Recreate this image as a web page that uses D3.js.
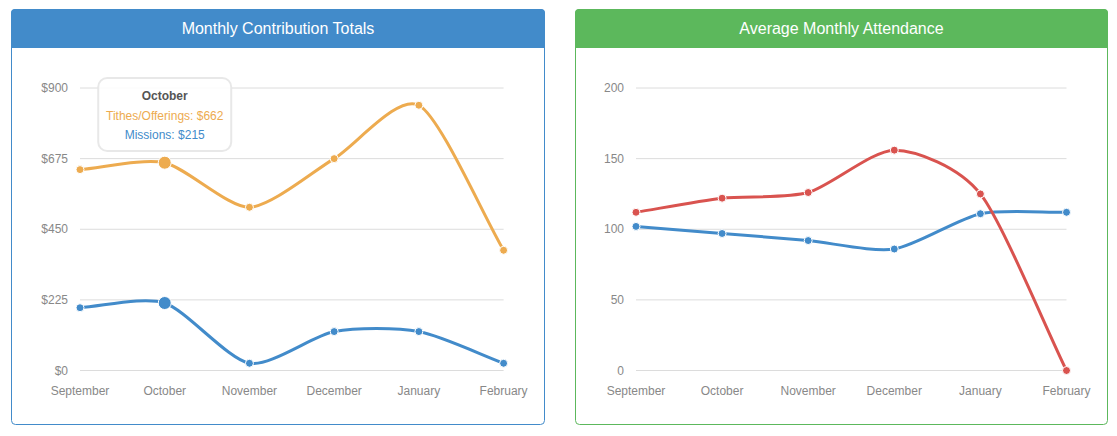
<!DOCTYPE html>
<html>
<head>
<meta charset="utf-8">
<script src="https://cdn.jsdelivr.net/npm/d3@7"></script>
<style>
  html, body { margin: 0; padding: 0; background: #fff; }
  svg { display: block; }
  text { font-family: "Liberation Sans", Arial, sans-serif; }
</style>
</head>
<body>
<svg id="chart" width="1117" height="436"></svg>
<script>
// ---- data ----
const months = ["September", "October", "November", "December", "January", "February"];
const tithes = [640, 662, 520, 675, 845, 383];
const missions = [200, 215, 23, 124, 124, 23];
const attendanceRed = [112, 122, 126, 156, 125, 0];
const attendanceBlue = [102, 97, 92, 86, 111, 112];
const contributionTicks = [0, 225, 450, 675, 900];
const attendanceTicks = [0, 50, 100, 150, 200];
const hoverIndex = 1;

const svg = d3.select("#chart");

// Morris.js style smooth curve as a d3 curve factory
function morrisCurve(bottom) {
  return function (context) {
    let pts = [];
    return {
      areaStart() {}, areaEnd() {},
      lineStart() { pts = []; },
      point(x, y) { pts.push({ x: +x, y: +y }); },
      lineEnd() {
        const grad = (a, b) => (a.y - b.y) / (a.x - b.x);
        const g = pts.map((p, i) => {
          const prev = pts[i - 1], next = pts[i + 1];
          if (prev && next) return grad(prev, next);
          if (prev) return grad(prev, p);
          if (next) return grad(p, next);
          return 0;
        });
        pts.forEach((p, i) => {
          if (i === 0) { context.moveTo(p.x, p.y); return; }
          const q = pts[i - 1];
          const ix = (p.x - q.x) / 4;
          const x1 = q.x + ix, y1 = Math.min(bottom, q.y + ix * g[i - 1]);
          const x2 = p.x - ix, y2 = Math.min(bottom, p.y - ix * g[i]);
          context.bezierCurveTo(x1, y1, x2, y2, p.x, p.y);
        });
      }
    };
  };
}

function panel(cfg) {
  const g = svg.append("g");
  const { left, right, top, bottom, headerH, color, title } = cfg;
  const r = 4;
  // border
  g.append("rect")
    .attr("x", left + 0.5).attr("y", top + 0.5)
    .attr("width", right - left - 1).attr("height", bottom - top - 1)
    .attr("rx", r).attr("fill", "#fff").attr("stroke", color).attr("stroke-width", 1);
  // header with rounded top corners
  const hp = d3.path();
  hp.moveTo(left, top + headerH);
  hp.lineTo(left, top + r);
  hp.arcTo(left, top, left + r, top, r);
  hp.lineTo(right - r, top);
  hp.arcTo(right, top, right, top + r, r);
  hp.lineTo(right, top + headerH);
  hp.closePath();
  g.append("path").attr("d", hp.toString()).attr("fill", color);
  g.append("text")
    .attr("x", (left + right) / 2).attr("y", top + 25)
    .attr("text-anchor", "middle").attr("fill", "#fff")
    .attr("font-size", 16).text(title);

  const x = d3.scalePoint().domain(months).range(cfg.xRange);
  const y = d3.scaleLinear().domain(cfg.yDomain).range([370.5, 88]);

  // grid
  g.selectAll(".grid").data(cfg.ticks).join("line")
    .attr("x1", cfg.xRange[0]).attr("x2", cfg.xRange[1])
    .attr("y1", d => y(d)).attr("y2", d => y(d))
    .attr("stroke", "#dcdcdc").attr("stroke-width", 1);
  g.selectAll(".ylab").data(cfg.ticks).join("text")
    .attr("x", cfg.xRange[0] - 12).attr("y", d => y(d) + 4)
    .attr("text-anchor", "end").attr("fill", "#888").attr("font-size", 12)
    .text(cfg.fmt);
  g.selectAll(".xlab").data(months).join("text")
    .attr("x", d => x(d)).attr("y", 395)
    .attr("text-anchor", "middle").attr("fill", "#888").attr("font-size", 12)
    .text(d => d);

  const line = d3.line()
    .x((d, i) => x(months[i]))
    .y(d => y(d))
    .curve(morrisCurve(370.5));

  // draw last series first so first series is on top
  const series = cfg.series.slice().reverse();
  series.forEach(s => {
    g.append("path").datum(s.values)
      .attr("d", line).attr("fill", "none")
      .attr("stroke", s.color).attr("stroke-width", 3);
  });
  series.forEach(s => {
    g.selectAll(null).data(s.values).join("circle")
      .attr("cx", (d, i) => x(months[i]))
      .attr("cy", d => y(d))
      .attr("r", (d, i) => (cfg.hover === i ? 6.5 : 4))
      .attr("fill", s.color).attr("stroke", "#fff").attr("stroke-width", 1);
  });

  if (cfg.hover != null) {
    const hx = x(months[cfg.hover]);
    const tw = 133, th = 73;
    const tg = g.append("g");
    tg.append("rect")
      .attr("x", hx - tw / 2).attr("y", 78)
      .attr("width", tw).attr("height", th).attr("rx", 9)
      .attr("fill", "rgba(255,255,255,0.85)")
      .attr("stroke", "rgba(230,230,230,0.9)").attr("stroke-width", 2);
    tg.append("text").attr("x", hx).attr("y", 100)
      .attr("text-anchor", "middle").attr("font-size", 12)
      .attr("font-weight", "bold").attr("fill", "#555")
      .text(months[cfg.hover]);
    cfg.series.forEach((s, k) => {
      tg.append("text").attr("x", hx).attr("y", 120 + k * 18.5)
        .attr("text-anchor", "middle").attr("font-size", 12)
        .attr("fill", s.color)
        .text(s.name + ": " + cfg.fmt(s.values[cfg.hover]));
    });
  }
}

panel({
  left: 11, right: 545, top: 9, bottom: 425, headerH: 39,
  color: "#428bca", title: "Monthly Contribution Totals",
  xRange: [80, 503.6], yDomain: [0, 900], ticks: contributionTicks,
  fmt: d => "$" + d,
  hover: hoverIndex,
  series: [
    { name: "Tithes/Offerings", values: tithes, color: "#edab4f" },
    { name: "Missions", values: missions, color: "#428bca" }
  ]
});

panel({
  left: 575, right: 1108, top: 9, bottom: 425, headerH: 39,
  color: "#5cb85c", title: "Average Monthly Attendance",
  xRange: [636, 1066.5], yDomain: [0, 200], ticks: attendanceTicks,
  fmt: d => String(d),
  hover: null,
  series: [
    { name: "Series A", values: attendanceRed, color: "#d9534f" },
    { name: "Series B", values: attendanceBlue, color: "#428bca" }
  ]
});
</script>
</body>
</html>
